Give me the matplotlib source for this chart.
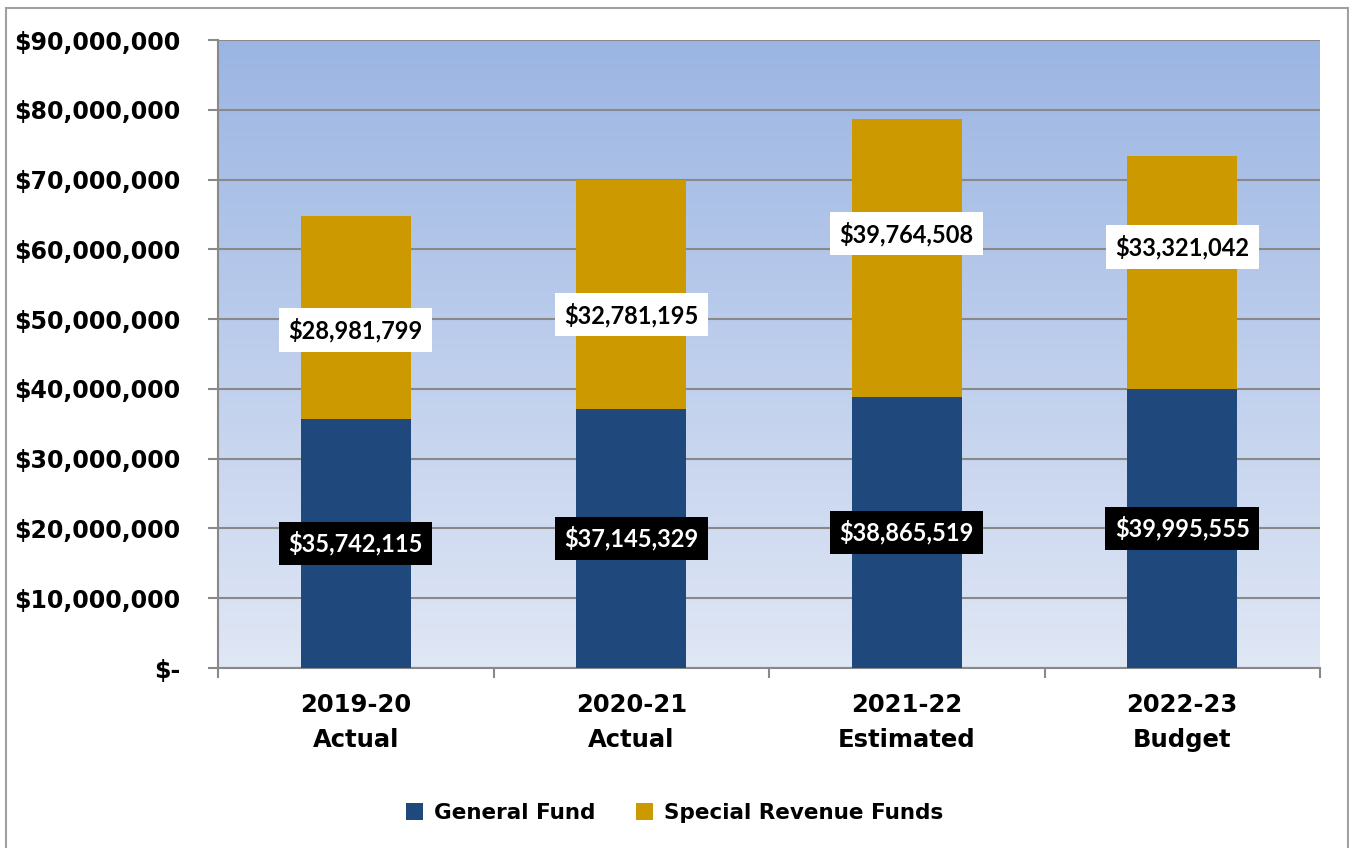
import matplotlib
matplotlib.use("Agg")
import matplotlib.pyplot as plt
import numpy as np
from matplotlib.colors import LinearSegmentedColormap
from matplotlib.patches import Rectangle
from matplotlib.ticker import FuncFormatter, FixedLocator

categories = ["2019-20\nActual", "2020-21\nActual", "2021-22\nEstimated", "2022-23\nBudget"]
general_fund = [35742115, 37145329, 38865519, 39995555]
special_revenue = [28981799, 32781195, 39764508, 33321042]
series_names = ["General Fund", "Special Revenue Funds"]
# manual label nudges (in dollars) for special revenue labels, as in the original
special_label_nudge = [-1.8e6, -2.9e6, 3.5e6, 3.7e6]

blue = "#1F497D"
gold = "#CC9900"
grid_gray = "#898989"

W, H = 1349, 848
fig = plt.figure(figsize=(W / 100, H / 100), dpi=100)
ax = fig.add_axes([218 / W, 1 - 668 / H, (1320 - 218) / W, (668 - 40) / H])

# gradient background
cmap = LinearSegmentedColormap.from_list("bg", ["#E0E7F5", "#9BB5E3"])
grad = np.linspace(0, 1, 256).reshape(-1, 1)
ax.imshow(grad, cmap=cmap, extent=[0, 1, 0, 1], transform=ax.transAxes,
          aspect="auto", origin="lower", zorder=0)

x = np.arange(len(categories))
ax.bar(x, general_fund, width=0.4, color=blue, zorder=3, label=series_names[0])
ax.bar(x, special_revenue, width=0.4, bottom=general_fund, color=gold, zorder=3,
       label=series_names[1])

ax.set_xlim(-0.5, len(categories) - 0.5)
ax.set_ylim(0, 90e6)
ax.set_yticks(np.arange(0, 90e6 + 1, 10e6))
ax.yaxis.set_major_formatter(FuncFormatter(lambda v, p: "$-" if v == 0 else f"${v:,.0f}"))
ax.grid(axis="y", color=grid_gray, linewidth=1.5, zorder=1)
ax.set_axisbelow(True)

ax.set_xticks(x)
ax.set_xticklabels(categories)
ax.xaxis.set_minor_locator(FixedLocator(np.arange(-0.5, len(categories), 1.0)))
ax.tick_params(axis="x", which="major", length=0, pad=18)
ax.tick_params(axis="x", which="minor", length=7, width=1.5, color=grid_gray, direction="out")
ax.tick_params(axis="y", length=7, width=1.5, color=grid_gray, direction="out", pad=20)

for lab in ax.get_xticklabels():
    lab.set_fontsize(17.5)
    lab.set_fontweight("bold")
    lab.set_family("DejaVu Sans")
    lab.set_linespacing(1.6)
for lab in ax.get_yticklabels():
    lab.set_fontsize(17)
    lab.set_fontweight("bold")
    lab.set_family("DejaVu Sans")

for s in ["top", "right"]:
    ax.spines[s].set_visible(False)
for s in ["left", "bottom"]:
    ax.spines[s].set_color(grid_gray)
    ax.spines[s].set_linewidth(1.5)

# data labels
for i in range(len(categories)):
    g = general_fund[i]
    s = special_revenue[i]
    ax.text(x[i], g / 2, f"${g:,.0f}", ha="center", va="center", color="white",
            fontsize=17, fontweight="bold", family="Lato", zorder=5,
            bbox=dict(boxstyle="square,pad=0.4", fc="black", ec="none"))
    ax.text(x[i], g + s / 2 + special_label_nudge[i], f"${s:,.0f}", ha="center",
            va="center", color="black", fontsize=17, fontweight="bold", family="Lato",
            zorder=5, bbox=dict(boxstyle="square,pad=0.4", fc="white", ec="none"))

leg = fig.legend(loc="center", bbox_to_anchor=(0.5, 1 - 813 / H), ncol=2, frameon=False,
                 prop=dict(family="DejaVu Sans", weight="bold", size=15.5),
                 handlelength=0.8, handleheight=0.8, handletextpad=0.5, columnspacing=1.9)

# outer chart border
fig.patches.append(Rectangle((6 / W, -0.05), (1348 - 6) / W, 1.05 - 8 / H,
                             transform=fig.transFigure, fill=False,
                             edgecolor="#A0A0A0", linewidth=1.5))

fig.savefig("out.png", dpi=100)
